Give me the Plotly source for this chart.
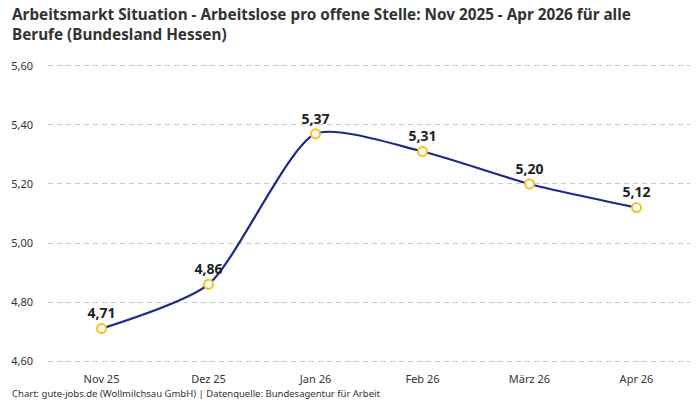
import plotly.graph_objects as go

months = ["Nov 25", "Dez 25", "Jan 26", "Feb 26", "März 26", "Apr 26"]
values = [4.71, 4.86, 5.37, 5.31, 5.20, 5.12]
value_labels = ["4,71", "4,86", "5,37", "5,31", "5,20", "5,12"]
y_ticks = [4.6, 4.8, 5.0, 5.2, 5.4, 5.6]

FONT = "Noto Sans"

fig = go.Figure()
fig.add_trace(go.Scatter(
    x=months, y=values,
    mode="lines+markers+text",
    line=dict(color="#1b2a8c", width=2.2, shape="spline", smoothing=0.65),
    marker=dict(size=9, color="white", line=dict(color="#f7c31b", width=2)),
    text=value_labels,
    textposition="top center",
    textfont=dict(family=FONT, size=14, color="#222", weight="bold"),
    hoverinfo="skip",
    cliponaxis=False,
))

fig.update_layout(
    width=700, height=400,
    margin=dict(l=48, r=10, t=63, b=36),
    paper_bgcolor="white", plot_bgcolor="white",
    separators=",.",
    showlegend=False,
    font=dict(family=FONT, color="#333"),
    xaxis=dict(
        type="category", range=[-0.5, 5.5],
        showgrid=False, zeroline=False, showline=False,
        ticks="", tickfont=dict(size=11, color="#333"), ticklabelstandoff=7,
        fixedrange=True,
    ),
    yaxis=dict(
        range=[4.59, 5.61], tickvals=y_ticks, tickformat=".2f",
        showgrid=True, gridcolor="#c8c8c8", griddash="5px,4px", gridwidth=1,
        zeroline=False, showline=False, ticks="",
        tickfont=dict(size=11, color="#333"), ticklabelstandoff=14,
        fixedrange=True,
    ),
    annotations=[
        dict(
            text="Arbeitsmarkt Situation - Arbeitslose pro offene Stelle: Nov 2025 - Apr 2026 für alle<br>Berufe (Bundesland Hessen)",
            xref="paper", yref="paper", xshift=-38, yshift=61, x=0, y=1, xanchor="left", yanchor="top",
            align="left", showarrow=False,
            font=dict(family=FONT, size=15.3, color="#333", weight="bold"),
        ),
        dict(
            text="Chart: gute-jobs.de (Wollmilchsau GmbH) | Datenquelle: Bundesagentur für Arbeit",
            xref="paper", yref="paper", x=0, y=0, xshift=-38, yshift=-29, xanchor="left", yanchor="middle",
            showarrow=False, font=dict(family=FONT, size=9.5, color="#333"),
        ),
    ],
)

fig.write_html("out.html")
